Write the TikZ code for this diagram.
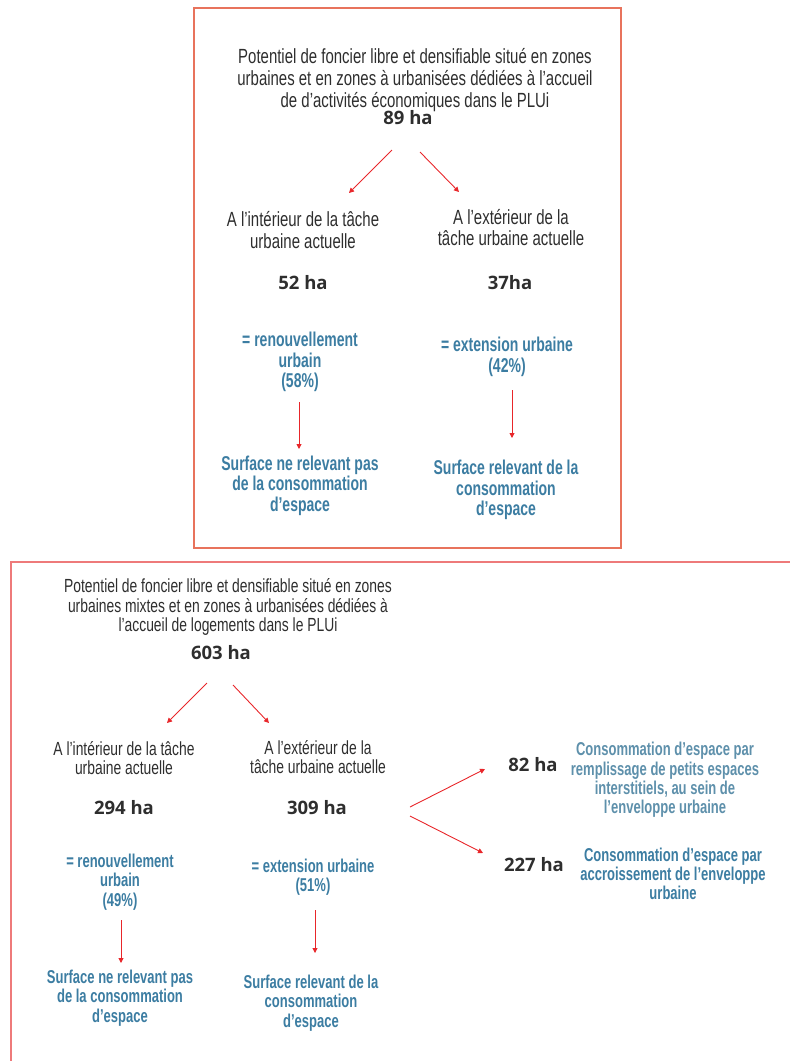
\documentclass[tikz,border=0pt]{standalone}
\usepackage{fontspec}
\newfontfamily\greyfont{Liberation Sans}[FakeStretch=0.73]
\newfontfamily\bluefont{Liberation Sans}[FakeStretch=0.70]
\newfontfamily\numfont{Open Sans}
\usepackage{xcolor}
\definecolor{txtgrey}{HTML}{2E2E2E}
\definecolor{txtblue}{HTML}{3C7DA2}
\definecolor{txtpale}{HTML}{5E90AB}
\definecolor{arrred}{HTML}{E8262A}
\definecolor{frameA}{HTML}{E8735C}
\definecolor{frameB}{HTML}{EE7A7A}
\usepackage{tikz}
\usetikzlibrary{arrows.meta}

\tikzset{
  greyA/.style={align=center, inner sep=0pt, text=txtgrey,
    font=\greyfont\fontsize{20.5}{21.7}\selectfont},
  greyB/.style={align=center, inner sep=0pt, text=txtgrey,
    font=\greyfont\fontsize{19}{19.6}\selectfont},
  blueA/.style={align=center, inner sep=0pt, text=txtblue,
    font=\bluefont\bfseries\fontsize{20}{20.5}\selectfont},
  blueB/.style={align=center, inner sep=0pt, text=txtblue,
    font=\bluefont\bfseries\fontsize{18.6}{19.3}\selectfont},
  hectare/.style={inner sep=0pt, text=txtgrey,
    font=\numfont\bfseries\fontsize{18.5}{22}\selectfont},
  arr/.style={draw=arrred, line width=0.9pt,
    -{Triangle[length=5pt,width=5pt]}},
}

\begin{document}
\begin{tikzpicture}[x=1pt, y=-1pt]
\useasboundingbox (0,0) rectangle (790,1061);

% economic activity zones
\draw[frameA, line width=1.4pt] (194,8) rectangle (621,548);

\node[greyA] (titleA) at (415,80) {Potentiel de foncier libre et densifiable situé en zones\\
urbaines et en zones à urbanisées dédiées à l’accueil\\
de d’activités économiques dans le PLUi};
\node[hectare] (haA) at (408,118) {89 ha};

\node[greyA] (inA) at (303,230) {A l’intérieur de la tâche\\ urbaine actuelle};
\node[greyA] (outA) at (511,227.5) {A l’extérieur de la\\ tâche urbaine actuelle};

\node[hectare] (ha52) at (303,283) {52 ha};
\node[hectare] (ha37) at (510,283) {37ha};

\node[blueA] (renA) at (300,362) {= renouvellement\\ urbain\\ (58\%)};
\node[blueA] (extA) at (507,357) {= extension urbaine\\ (42\%)};

\node[blueA] (surfInA) at (300,485.5) {Surface ne relevant pas\\ de la consommation\\ d’espace};
\node[blueA] (surfOutA) at (506,490) {Surface relevant de la\\ consommation\\ d’espace};

\coordinate (aA1) at (392,150); \coordinate (aA2) at (349,193);
\coordinate (aA3) at (420,152); \coordinate (aA4) at (459,192);
\coordinate (aA5) at (299,402); \coordinate (aA6) at (299,449);
\coordinate (aA7) at (512,390); \coordinate (aA8) at (512,438);

\draw[arr] (aA1) -- (aA2);
\draw[arr] (aA3) -- (aA4);
\draw[arr] (aA5) -- (aA6);
\draw[arr] (aA7) -- (aA8);

% housing zones
\draw[frameB, line width=1.4pt] (11,1061) |- (790,562);

\node[greyB] (titleB) at (228,607) {Potentiel de foncier libre et densifiable situé en zones\\
urbaines mixtes et en zones à urbanisées dédiées à\\
l’accueil de logements dans le PLUi};
\node[hectare] (haB) at (221,653) {603 ha};

\node[greyB] (inB) at (124,758) {A l’intérieur de la tâche\\ urbaine actuelle};
\node[greyB] (outB) at (318,757) {A l’extérieur de la\\ tâche urbaine actuelle};

\node[hectare] (ha294) at (124,808) {294 ha};
\node[hectare] (ha309) at (317,808) {309 ha};

\node[blueB] (renB) at (120,882) {= renouvellement\\ urbain\\ (49\%)};
\node[blueB] (extB) at (313,877) {= extension urbaine\\ (51\%)};

\node[blueB] (surfInB) at (120,998) {Surface ne relevant pas\\ de la consommation\\ d’espace};
\node[blueB] (surfOutB) at (311,1003) {Surface relevant de la\\ consommation\\ d’espace};

\node[hectare] (ha82) at (533,765) {82 ha};
\node[blueB, text=txtpale] (consA) at (665,780) {Consommation d’espace par\\
remplissage de petits espaces\\ interstitiels, au sein de\\ l’enveloppe urbaine};
\node[hectare] (ha227) at (534,865) {227 ha};
\node[blueB] (consB) at (673,874) {Consommation d’espace par\\
accroissement de l’enveloppe\\ urbaine};

\coordinate (aB1) at (207,683); \coordinate (aB2) at (167,723);
\coordinate (aB3) at (233,685); \coordinate (aB4) at (269,723);
\coordinate (aB5) at (121,920); \coordinate (aB6) at (121,963);
\coordinate (aB7) at (315,910); \coordinate (aB8) at (315,953);
\coordinate (aB9) at (410,807); \coordinate (aB10) at (485,769);
\coordinate (aB11) at (410,816); \coordinate (aB12) at (483,853);

\draw[arr] (aB1) -- (aB2);
\draw[arr] (aB3) -- (aB4);
\draw[arr] (aB5) -- (aB6);
\draw[arr] (aB7) -- (aB8);
\draw[arr] (aB9) -- (aB10);
\draw[arr] (aB11) -- (aB12);

% \draw[help lines] (0,0) grid[step=50] (790,1061);
\end{tikzpicture}
\end{document}
